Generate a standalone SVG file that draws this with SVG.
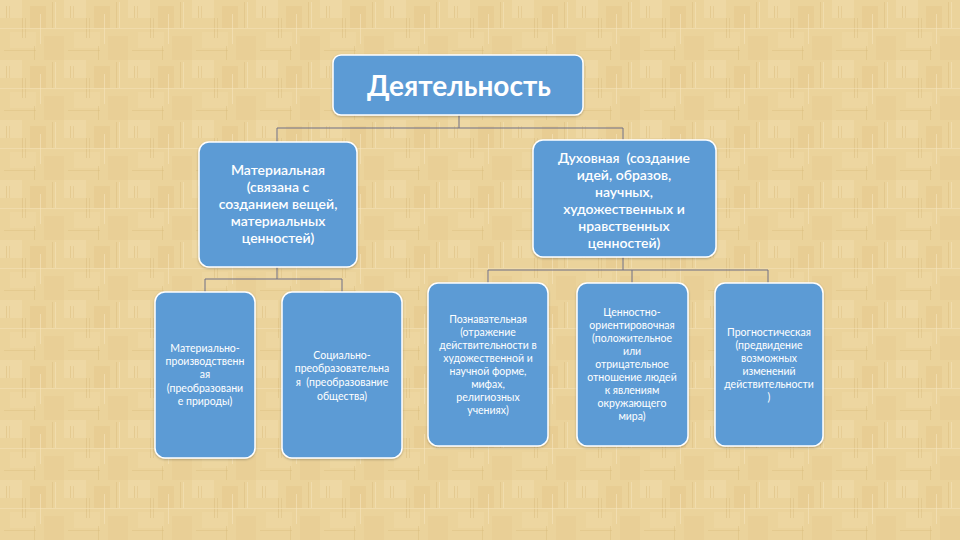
<svg xmlns="http://www.w3.org/2000/svg" width="960" height="540" viewBox="0 0 960 540">
<defs>
<pattern id="pap" width="64" height="60" patternUnits="userSpaceOnUse">
<rect width="64" height="60" fill="#ebd39b"/>
<rect x="0" y="0" width="22" height="18" fill="#efd9a6" opacity="0.8"/>
<rect x="30" y="6" width="16" height="22" fill="#e7cb90" opacity="0.7"/>
<rect x="10" y="32" width="26" height="16" fill="#eed7a3" opacity="0.7"/>
<rect x="44" y="36" width="20" height="24" fill="#e8cd93" opacity="0.6"/>
<rect x="22" y="18" width="1" height="20" fill="#d9bb7d" opacity="0.5"/>
<rect x="25" y="18" width="1" height="20" fill="#dcbf83" opacity="0.5"/>
<rect x="52" y="2" width="1" height="26" fill="#dcbe80" opacity="0.5"/>
<rect x="55" y="2" width="1" height="26" fill="#f3e2b8" opacity="0.6"/>
<rect x="0" y="28" width="64" height="1" fill="#f3e1b5" opacity="0.6"/>
<rect x="4" y="50" width="32" height="1" fill="#dabb7e" opacity="0.4"/>
<rect x="40" y="14" width="1" height="30" fill="#f5e5bd" opacity="0.6"/>
<rect x="6" y="6" width="1" height="12" fill="#d8b878" opacity="0.45"/>
<rect x="9" y="6" width="1" height="12" fill="#d8b878" opacity="0.35"/>
<rect x="34" y="46" width="1" height="14" fill="#d8b878" opacity="0.4"/>
</pattern>
<filter id="sh" x="-10%" y="-10%" width="120%" height="120%">
<feDropShadow dx="0" dy="1" stdDeviation="1.2" flood-color="#000" flood-opacity="0.25"/>
</filter>
</defs>
<style>
.box{fill:#5b9bd5;stroke:#ffffff;stroke-width:1.5;filter:url(#sh)}
.t{fill:#ffffff;font-family:Lato,"Liberation Sans",sans-serif;text-anchor:middle}
.t1{font-size:28px;font-weight:bold}
.t2{font-size:14px;font-weight:600}
.t3{font-size:10.5px}
.c{fill:none;stroke:#6e6e85;stroke-width:1}
</style>
<rect width="960" height="540" fill="url(#pap)"/>
<g id="connectors">
<path class="c" d="M459,115 V128 M277,128 H623 M277,128 V142 M623,128 V140"/>
<path class="c" d="M277,267 V279 M205,279 H342 M205,279 V292 M342,279 V292"/>
<path class="c" d="M623,257 V270 M488,270 H768 M488,270 V283 M632,270 V283 M768,270 V283"/>
</g>
<g id="n-activity">
<rect class="box" x="333" y="55" width="250" height="60" rx="8"/>
<text class="t t1" x="459" y="96">Деятельность</text>
</g>
<g id="n-material">
<rect class="box" x="199" y="142" width="158" height="125" rx="10"/>
<text class="t t2"><tspan x="278" y="175">Материальная</tspan><tspan x="278" y="192">(связана с</tspan><tspan x="278" y="209">созданием вещей,</tspan><tspan x="278" y="226">материальных</tspan><tspan x="278" y="243">ценностей)</tspan></text>
</g>
<g id="n-spiritual">
<rect class="box" x="533" y="140" width="183" height="117" rx="10"/>
<text class="t t2"><tspan x="624" y="163">Духовная&#160; (создание</tspan><tspan x="624" y="180">идей, образов,</tspan><tspan x="624" y="197">научных,</tspan><tspan x="624" y="214">художественных и</tspan><tspan x="624" y="231">нравственных</tspan><tspan x="624" y="248">ценностей)</tspan></text>
</g>
<g id="n-prod">
<rect class="box" x="155" y="292" width="100" height="166" rx="10"/>
<text class="t t3"><tspan x="205" y="352">Материально-</tspan><tspan x="205" y="365">производственн</tspan><tspan x="205" y="378">ая</tspan><tspan x="205" y="392">(преобразовани</tspan><tspan x="205" y="405">е природы)</tspan></text>
</g>
<g id="n-social">
<rect class="box" x="282" y="292" width="120" height="166" rx="10"/>
<text class="t t3"><tspan x="342" y="359">Социально-</tspan><tspan x="342" y="372">преобразовательна</tspan><tspan x="342" y="386">я&#160; (преобразование</tspan><tspan x="342" y="400">общества)</tspan></text>
</g>
<g id="n-cognitive">
<rect class="box" x="428" y="283" width="120" height="163" rx="10"/>
<text class="t t3"><tspan x="488" y="323">Познавательная</tspan><tspan x="488" y="336">(отражение</tspan><tspan x="488" y="349">действительности в</tspan><tspan x="488" y="362">художественной и</tspan><tspan x="488" y="375">научной форме,</tspan><tspan x="488" y="388">мифах,</tspan><tspan x="488" y="401">религиозных</tspan><tspan x="488" y="414">учениях)</tspan></text>
</g>
<g id="n-value">
<rect class="box" x="577" y="283" width="111" height="163" rx="10"/>
<text class="t t3"><tspan x="632" y="316">Ценностно-</tspan><tspan x="632" y="329">ориентировочная</tspan><tspan x="632" y="342">(положительное</tspan><tspan x="632" y="355">или</tspan><tspan x="632" y="368">отрицательное</tspan><tspan x="632" y="381">отношение людей</tspan><tspan x="632" y="394">к явлениям</tspan><tspan x="632" y="407">окружающего</tspan><tspan x="632" y="420">мира)</tspan></text>
</g>
<g id="n-prognostic">
<rect class="box" x="715" y="283" width="108" height="163" rx="10"/>
<text class="t t3"><tspan x="769" y="336">Прогностическая</tspan><tspan x="769" y="349">(предвидение</tspan><tspan x="769" y="362">возможных</tspan><tspan x="769" y="375">изменений</tspan><tspan x="769" y="388">действительности</tspan><tspan x="769" y="401">)</tspan></text>
</g>
</svg>
